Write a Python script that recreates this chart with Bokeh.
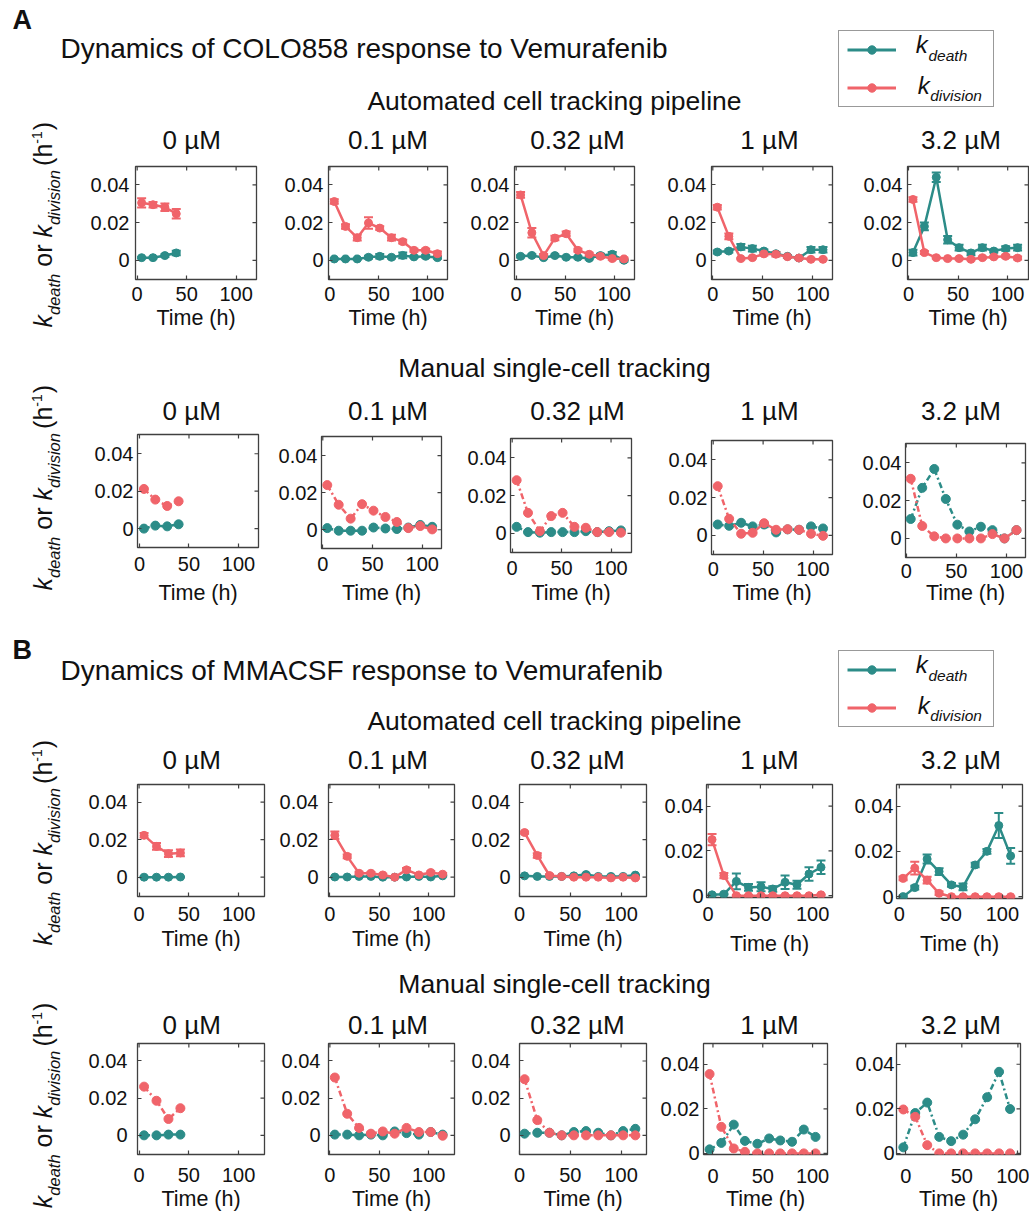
import math
from bokeh.plotting import figure
from bokeh.layouts import row, column
from bokeh.models import (Range1d, Label, FixedTicker, Whisker, TeeHead,
                          ColumnDataSource, Legend, LegendItem)
from bokeh.embed import file_html
from bokeh.resources import INLINE

# ---------------------------------------------------------------- data
CONC_LABELS = ["0 \u00b5M", "0.1 \u00b5M", "0.32 \u00b5M", "1 \u00b5M", "3.2 \u00b5M"]
X_TICKS = [0, 50, 100]
X_TICK_LABELS = ["0", "50", "100"]
Y_TICKS = [0, 0.02, 0.04]
Y_TICK_LABELS = ["0", "0.02", "0.04"]

T_A = [4.5, 16, 28, 39.5, 51, 63, 74.5, 86, 98, 110]
T_B = [5, 17.5, 29.5, 41.5, 53.5, 65.5, 77.5, 90, 102, 114]
T_B_AUTO_HIGH = [3.7, 15, 27, 38.6, 50.6, 61.8, 73.6, 85, 96.5, 108]
T_B_MAN_1 = [-3.4, 8.4, 20.9, 32.1, 44.6, 56.4, 67.6, 79.4, 91.2, 103]
T_B_MAN_32 = [-2.1, 8.5, 19.2, 29.9, 40.5, 51.2, 61.9, 72.6, 83.2, 93]

# A (COLO858) - automated pipeline
A_AUTO_0_DEATH = [0.0014, 0.0014, 0.0025, 0.0039]
A_AUTO_0_DEATH_ERR = [0.0005, 0.0005, 0.0007, 0.0012]
A_AUTO_0_DIV = [0.0305, 0.0295, 0.0282, 0.0247]
A_AUTO_0_DIV_ERR = [0.0025, 0.0015, 0.002, 0.0025]
A_AUTO_01_DEATH = [0.0007, 0.0007, 0.0007, 0.0016, 0.0021, 0.0016, 0.0026, 0.0018, 0.0021, 0.0014]
A_AUTO_01_DEATH_ERR = [0.0004, 0.0004, 0.0004, 0.0008, 0.0012, 0.0006, 0.0015, 0.0006, 0.0008, 0.0006]
A_AUTO_01_DIV = [0.0312, 0.018, 0.012, 0.0198, 0.0171, 0.012, 0.0099, 0.0053, 0.0053, 0.0035]
A_AUTO_01_DIV_ERR = [0.0012, 0.0012, 0.0015, 0.003, 0.001, 0.0015, 0.001, 0.0008, 0.0008, 0.0012]
A_AUTO_032_DEATH = [0.0021, 0.0026, 0.0014, 0.0025, 0.0016, 0.0016, 0.001, 0.0025, 0.0032, 0.0]
A_AUTO_032_DEATH_ERR = [0.0006, 0.0006, 0.0005, 0.0006, 0.0005, 0.0006, 0.0006, 0.001, 0.0012, 0.0006]
A_AUTO_032_DIV = [0.0347, 0.0146, 0.0025, 0.0118, 0.0141, 0.0053, 0.0032, 0.0021, 0.0009, 0.0007]
A_AUTO_032_DIV_ERR = [0.0015, 0.0025, 0.0008, 0.0012, 0.0012, 0.0008, 0.0008, 0.0008, 0.0006, 0.0006]
A_AUTO_1_DEATH = [0.0044, 0.0049, 0.0071, 0.0062, 0.0049, 0.0035, 0.0021, 0.0012, 0.0056, 0.0056]
A_AUTO_1_DEATH_ERR = [0.0008, 0.0008, 0.0015, 0.0015, 0.0008, 0.0008, 0.0006, 0.0006, 0.0015, 0.0015]
A_AUTO_1_DIV = [0.0282, 0.0127, 0.0009, 0.0014, 0.0034, 0.0032, 0.0019, 0.0012, 0.0005, 0.0005]
A_AUTO_1_DIV_ERR = [0.0012, 0.0015, 0.0005, 0.0005, 0.0008, 0.0012, 0.0006, 0.0005, 0.0004, 0.0004]
A_AUTO_32_DEATH = [0.0041, 0.018, 0.0441, 0.0109, 0.0067, 0.0039, 0.0067, 0.0049, 0.0062, 0.0067]
A_AUTO_32_DEATH_ERR = [0.0015, 0.002, 0.0025, 0.002, 0.0015, 0.0012, 0.0015, 0.0008, 0.0012, 0.0015]
A_AUTO_32_DIV = [0.0323, 0.0041, 0.0014, 0.0009, 0.0009, 0.0005, 0.0014, 0.0018, 0.0021, 0.0012]
A_AUTO_32_DIV_ERR = [0.0012, 0.0008, 0.0005, 0.0005, 0.0005, 0.0005, 0.0006, 0.0006, 0.0008, 0.0008]

# A (COLO858) - manual tracking
A_MAN_0_DEATH = [0.0, 0.0016, 0.0012, 0.0023]
A_MAN_0_DIV = [0.0212, 0.0155, 0.0121, 0.0146]
A_MAN_01_DEATH = [0.0009, -0.0005, -0.0005, -0.0005, 0.0012, 0.0007, 0.0004, 0.0012, 0.0026, 0.0016]
A_MAN_01_DIV = [0.0241, 0.0135, 0.006, 0.0138, 0.0103, 0.0069, 0.0042, 0.0009, 0.002, 0.0002]
A_MAN_032_DEATH = [0.0035, 0.0007, 0.0004, 0.0007, 0.0007, 0.0007, 0.0012, 0.0007, 0.0012, 0.0016]
A_MAN_032_DIV = [0.0282, 0.0109, 0.0012, 0.0092, 0.0109, 0.0035, 0.003, 0.0007, 0.0007, 0.0004]
A_MAN_1_DEATH = [0.0058, 0.0051, 0.0067, 0.0048, 0.0058, 0.0016, 0.0032, 0.003, 0.0048, 0.0037]
A_MAN_1_DIV = [0.0261, 0.0088, 0.0009, 0.0014, 0.0065, 0.003, 0.0033, 0.003, 0.0009, -0.0002]
A_MAN_32_DEATH = [0.0103, 0.0268, 0.0368, 0.0209, 0.0073, 0.0037, 0.0062, 0.0044, 0.0, 0.0044]
A_MAN_32_DIV = [0.0316, 0.0066, 0.0011, 0.0, 0.0, 0.0, 0.0, 0.0023, 0.0, 0.0044]

# B (MMACSF) - automated pipeline
B_AUTO_0_DEATH = [0.0, 0.0, 0.0, 0.0001]
B_AUTO_0_DEATH_ERR = [0.0003, 0.0003, 0.0003, 0.0003]
B_AUTO_0_DIV = [0.0223, 0.0164, 0.0125, 0.0129]
B_AUTO_0_DIV_ERR = [0.0012, 0.0018, 0.0018, 0.0018]
B_AUTO_01_DEATH = [0.0001, 0.0001, 0.0004, 0.0004, 0.0, 0.0, 0.0001, 0.0004, 0.0001, 0.0007]
B_AUTO_01_DEATH_ERR = [0.0003, 0.0003, 0.0003, 0.0003, 0.0003, 0.0003, 0.0003, 0.0003, 0.0003, 0.0003]
B_AUTO_01_DIV = [0.0223, 0.0111, 0.0021, 0.0021, 0.0012, 0.0, 0.0039, 0.0012, 0.0025, 0.0016]
B_AUTO_01_DIV_ERR = [0.002, 0.001, 0.0008, 0.0006, 0.0006, 0.0004, 0.001, 0.0006, 0.0006, 0.0006]
B_AUTO_032_DEATH = [0.0007, 0.0004, 0.0004, 0.0004, 0.0007, 0.0014, 0.0004, 0.0004, 0.0004, 0.0011]
B_AUTO_032_DEATH_ERR = [0.0003, 0.0003, 0.0003, 0.0003, 0.0003, 0.0004, 0.0003, 0.0003, 0.0003, 0.0003]
B_AUTO_032_DIV = [0.0238, 0.0116, 0.0009, 0.0004, 0.0, 0.0, 0.0, -0.0004, 0.0, -0.0004]
B_AUTO_032_DIV_ERR = [0.0006, 0.0012, 0.0006, 0.0004, 0.0004, 0.0004, 0.0004, 0.0004, 0.0004, 0.0004]
B_AUTO_1_DEATH = [0.0004, 0.0007, 0.0064, 0.0037, 0.004, 0.003, 0.006, 0.0049, 0.0097, 0.0127]
B_AUTO_1_DEATH_ERR = [0.0003, 0.0003, 0.0035, 0.0015, 0.002, 0.0012, 0.003, 0.0018, 0.003, 0.003]
B_AUTO_1_DIV = [0.0251, 0.009, 0.0, 0.0, 0.0, 0.0, 0.0, 0.0, 0.0, 0.0004]
B_AUTO_1_DIV_ERR = [0.0025, 0.0012, 0.0003, 0.0003, 0.0003, 0.0003, 0.0003, 0.0003, 0.0003, 0.0003]
B_AUTO_32_DEATH = [0.0, 0.004, 0.0166, 0.0111, 0.0052, 0.0043, 0.014, 0.02, 0.0314, 0.018]
B_AUTO_32_DEATH_ERR = [0.0004, 0.0008, 0.002, 0.0015, 0.0008, 0.0015, 0.001, 0.001, 0.0055, 0.0035]
B_AUTO_32_DIV = [0.0081, 0.0126, 0.0073, 0.0015, 0.0, 0.0, 0.0, 0.0, 0.0, 0.0]
B_AUTO_32_DIV_ERR = [0.0008, 0.0028, 0.0015, 0.0008, 0.0003, 0.0003, 0.0003, 0.0003, 0.0003, 0.0003]

# B (MMACSF) - manual tracking
B_MAN_0_DEATH = [0.0, 0.0, 0.0004, 0.0004]
B_MAN_0_DIV = [0.0262, 0.0186, 0.0088, 0.0146]
B_MAN_01_DEATH = [0.0004, 0.0004, 0.0, 0.0004, 0.0, 0.0021, 0.0012, 0.0004, 0.0018, 0.0004]
B_MAN_01_DIV = [0.0311, 0.0116, 0.004, 0.0009, 0.0021, 0.0009, 0.004, 0.0018, 0.0018, -0.0002]
B_MAN_032_DEATH = [0.0009, 0.0014, 0.0014, 0.0, 0.0018, 0.0023, 0.0014, 0.0, 0.0023, 0.0035]
B_MAN_032_DIV = [0.0302, 0.0082, 0.0014, 0.0, 0.0, 0.0, 0.0, 0.0, 0.0, 0.0]
B_MAN_1_DEATH = [0.0018, 0.0047, 0.0129, 0.0056, 0.0043, 0.0067, 0.0058, 0.0052, 0.0107, 0.0074]
B_MAN_1_DIV = [0.0356, 0.0119, 0.0022, 0.0007, 0.0, 0.0, 0.0, 0.0, 0.0, 0.0]
B_MAN_32_DEATH = [0.0027, 0.0181, 0.0228, 0.0074, 0.0055, 0.0084, 0.0153, 0.0252, 0.0366, 0.0199]
B_MAN_32_DIV = [0.0197, 0.0164, 0.0037, 0.0, 0.0, 0.0, 0.0, 0.0, 0.0, 0.0]

# ---------------------------------------------------------------- style
FONT = "Liberation Sans"
TEAL = "#2C8C88"
RED = "#F0646A"
FRAME = "#404040"
TXT = "#111111"

# ---------------------------------------------------------------- layout geometry (page px)
PAGE_W = 1029
LEFT_W = 80          # y-label column
RIGHT_X0 = 80
RIGHT_X1 = PAGE_W
TITLE_CX = [191.2, 387.5, 577.0, 769.0, 960.4]   # centres of the concentration titles

# frame_left, frame_right, frame_top, frame_bottom, xmin, xmax, ymin, ymax
GEOM_A_AUTO = [
    (135.3, 256.0, 165.7, 279.3, -1.7, 120.6, -0.0102, 0.0498),
    (327.7, 447.3, 165.7, 279.3, -1.4, 120.3, -0.0102, 0.0498),
    (513.6, 634.4, 165.7, 279.3, -1.7, 120.7, -0.0102, 0.0498),
    (711.4, 831.9, 165.7, 279.3, -1.3, 119.5, -0.0102, 0.0498),
    (907.4, 1027.9, 165.7, 279.3, -1.0, 121.0, -0.0102, 0.0498),
]
GEOM_A_MAN = [
    (137.3, 258.3, 434.0, 547.0, -2.0, 120.2, -0.0101, 0.0503),
    (320.7, 441.0, 435.7, 548.3, -1.3, 119.4, -0.0101, 0.0503),
    (510.2, 631.0, 437.7, 551.7, -1.7, 120.7, -0.0101, 0.0503),
    (711.0, 831.9, 440.0, 554.0, -1.7, 119.5, -0.0101, 0.0503),
    (905.0, 1025.2, 443.3, 556.7, -0.7, 119.0, -0.0101, 0.0503),
]
GEOM_B_AUTO = [
    (136.7, 264.3, 784.0, 895.7, -1.6, 126.0, -0.0103, 0.0494),
    (328.3, 454.0, 784.0, 895.7, -1.4, 126.0, -0.0103, 0.0494),
    (518.7, 646.4, 784.0, 895.7, 0.0, 125.0, -0.0103, 0.0494),
    (705.9, 831.9, 784.0, 896.7, -1.6, 119.0, -0.0008, 0.0497),
    (896.5, 1022.5, 784.0, 897.7, -2.7, 119.5, -0.0008, 0.0495),
]
GEOM_B_MAN = [
    (136.7, 264.3, 1043.3, 1154.3, -1.6, 126.0, -0.0103, 0.0494),
    (327.7, 454.3, 1043.3, 1154.3, -1.4, 126.0, -0.0103, 0.0494),
    (518.7, 646.4, 1043.3, 1154.3, 0.0, 125.0, -0.0103, 0.0494),
    (703.2, 827.4, 1043.3, 1154.3, -9.5, 115.0, -0.0005, 0.0493),
    (896.5, 1020.0, 1043.3, 1154.3, -8.2, 102.3, -0.0005, 0.0493),
]

# text metric guesses (Liberation Sans); labels are anchored at their middle
MID = 0.35
TICK_FS = 20
TIME_FS = 21.5
TITLE_FS = 26
HEAD_FS = 26.5
MAIN_FS = 28

EM = {"k": 0.5, "d": 0.556, "e": 0.556, "a": 0.556, "t": 0.278, "h": 0.556, "o": 0.556,
      "r": 0.333, "i": 0.222, "v": 0.5, "s": 0.5, "n": 0.556, "(": 0.333, ")": 0.333,
      "-": 0.333, "1": 0.556, " ": 0.278}


def tw(s, size):
    return sum(EM[c] for c in s) * size


def canvas(w, h):
    c = figure(width=w, height=h, x_range=Range1d(0, w), y_range=Range1d(0, h),
               x_axis_type=None, y_axis_type=None, toolbar_location=None, title=None,
               output_backend="svg", min_border_left=0, min_border_right=0,
               min_border_top=0, min_border_bottom=0, outline_line_color=None,
               background_fill_color="white", border_fill_color="white")
    c.grid.visible = False
    return c


def add_text(c, x, y_base_up, text, size, style="normal", align="left", angle=0.0,
             level="annotation"):
    """y_base_up: baseline position in canvas (upward) coords."""
    if angle == 0.0:
        x_a, y_a = x, y_base_up + MID * size
    else:  # rotated 90 degrees counter-clockwise: glyph 'up' points to -x
        x_a, y_a = x - MID * size, y_base_up
    c.add_layout(Label(x=x_a, y=y_a, text=text, text_font=FONT, text_font_size=f"{size}px",
                       text_font_style=style, text_align=align, text_baseline="middle",
                       text_color=TXT, angle=angle, level=level))


def ylabel_canvas(band_top, band_bottom, bottom_y, base_x):
    h = band_bottom - band_top
    c = canvas(LEFT_W, h)
    M, S, P = 25, 16.5, 14
    sp = tw(" ", M)
    pieces = [("k", M, "italic", 0, 0), ("death", S, "italic", 8, sp),
              ("or", M, "normal", 0, sp), ("k", M, "italic", 0, 0),
              ("division", S, "italic", 8, sp * 0.6), ("(h", M, "normal", 0, 0),
              ("-1", P, "normal", -10, 1), (")", M, "normal", 0, 0)]
    y = bottom_y
    for text, size, style, dx, gap in pieces:
        add_text(c, base_x + dx, band_bottom - y, text, size, style, angle=math.pi / 2)
        y -= tw(text, size) + gap
    return c


def legend_block(c, top_offset, canvas_bottom):
    # sample renderers kept outside the visible canvas; they only feed the legend swatches
    r1 = c.line(x=[-60, -40], y=[-60, -60], line_color=TEAL, line_width=3)
    s1 = c.scatter(x=[-50], y=[-60], marker="circle", size=9, color=TEAL)
    r2 = c.line(x=[-60, -40], y=[-80, -80], line_color=RED, line_width=3)
    s2 = c.scatter(x=[-50], y=[-80], marker="circle", size=9, color=RED)
    leg = Legend(items=[LegendItem(label=" ", renderers=[r1, s1]),
                        LegendItem(label=" ", renderers=[r2, s2])],
                 location=(838, canvas_bottom - (107 + top_offset)), orientation="vertical",
                 padding=8, spacing=17, glyph_width=49, glyph_height=21,
                 label_height=21, label_width=84, label_standoff=5, margin=0,
                 border_line_color="#333333", border_line_width=1.2,
                 background_fill_alpha=0.0, label_text_font_size="10px")
    c.add_layout(leg)
    add_text(c, 915.3, canvas_bottom - (52.7 + top_offset), "k", 24, "italic", level="overlay")
    add_text(c, 928.0, canvas_bottom - (60.3 + top_offset), "death", 15.5, "italic", level="overlay")
    add_text(c, 917.3, canvas_bottom - (93.0 + top_offset), "k", 24, "italic", level="overlay")
    add_text(c, 929.7, canvas_bottom - (100.5 + top_offset), "division", 15.5, "italic",
             level="overlay")


def header_canvas(top, bottom, letter, letter_base, title, title_base, sub_base, legend_offset):
    c = canvas(PAGE_W, bottom - top)
    add_text(c, 12, bottom - letter_base, letter, 27, "bold")
    add_text(c, 60, bottom - title_base, title, MAIN_FS)
    add_text(c, 554, bottom - sub_base, "Automated cell tracking pipeline", HEAD_FS,
             align="center")
    legend_block(c, legend_offset, bottom)
    return c


def sub_canvas(top, bottom, base):
    c = canvas(PAGE_W, bottom - top)
    add_text(c, 554, bottom - base, "Manual single-cell tracking", HEAD_FS, align="center")
    return c


def panel(geom, b_left, b_right, strip_bottom, band_bottom, tick_top, time_top, ygap,
          t, death, div, death_err, div_err):
    fl, fr, ft, fb, x0, x1, y0, y1 = geom
    L, R, T, B = round(fl), round(fr), round(ft), round(fb)
    p = figure(frame_width=R - L, frame_height=B - T,
               min_border_left=L - b_left, min_border_right=b_right - R,
               min_border_top=T - strip_bottom, min_border_bottom=band_bottom - B,
               x_range=Range1d(x0, x1), y_range=Range1d(y0, y1), title=None,
               toolbar_location=None, output_backend="svg", x_axis_label="Time (h)",
               background_fill_color="white", border_fill_color="white",
               outline_line_color=FRAME, outline_line_width=1.3)
    p.grid.visible = False
    for ax in (p.xaxis[0], p.yaxis[0]):
        ax.major_label_text_font = FONT
        ax.major_label_text_font_size = f"{TICK_FS}px"
        ax.major_label_text_color = TXT
        ax.major_tick_in = 4
        ax.major_tick_out = 0
        ax.major_tick_line_color = FRAME
        ax.major_tick_line_width = 1.2
        ax.minor_tick_line_color = None
        ax.axis_line_color = None
    p.xaxis.ticker = FixedTicker(ticks=X_TICKS)
    p.xaxis.major_label_overrides = dict(zip(X_TICKS, X_TICK_LABELS))
    p.yaxis.ticker = FixedTicker(ticks=Y_TICKS)
    p.yaxis.major_label_overrides = dict(zip(Y_TICKS, Y_TICK_LABELS))
    p.yaxis.major_label_standoff = int(round(ygap))
    ls = int(round(tick_top - B - 1))
    p.xaxis.major_label_standoff = ls
    als = (time_top - 0.19 * TIME_FS) - (B + ls + 1.117 * TICK_FS) + 4
    p.xaxis.axis_label_standoff = int(round(als))
    p.xaxis.axis_label_text_font = FONT
    p.xaxis.axis_label_text_font_size = f"{TIME_FS}px"
    p.xaxis.axis_label_text_font_style = "normal"
    p.xaxis.axis_label_text_color = TXT
    # mirrored inward ticks on the top and right edges of the box
    p.ray(x=X_TICKS, y=[y1] * len(X_TICKS), length=4, length_units="screen",
          angle=-math.pi / 2, line_color=FRAME, line_width=1.2)
    p.ray(x=[x1] * len(Y_TICKS), y=Y_TICKS, length=4, length_units="screen",
          angle=math.pi, line_color=FRAME, line_width=1.2)

    manual = death_err is None
    tt = t[:len(death)]
    for vals, errs, color in ((death, death_err, TEAL), (div, div_err, RED)):
        if errs is not None:
            src = ColumnDataSource(dict(t=tt, lo=[v - e for v, e in zip(vals, errs)],
                                        hi=[v + e for v, e in zip(vals, errs)]))
            p.add_layout(Whisker(source=src, base="t", lower="lo", upper="hi",
                                 line_color=color, line_width=2,
                                 upper_head=TeeHead(size=9, line_color=color, line_width=2),
                                 lower_head=TeeHead(size=9, line_color=color, line_width=2)))
        if manual:
            p.line(tt, vals, line_color=color, line_width=2.5, line_dash="6 3 2 3")
            p.scatter(tt, vals, marker="circle", size=9, color=color)
        else:
            p.line(tt, vals, line_color=color, line_width=2.5)
            p.scatter(tt, vals, marker="circle", size=8, color=color)
    return p


def panel_row(geoms, series, band_top, band_bottom, strip_bottom, title_base, ylab_bottom,
              tick_tops, time_tops, ygaps):
    ylab = ylabel_canvas(band_top, band_bottom, ylab_bottom, 51.5)
    strip = canvas(RIGHT_X1 - RIGHT_X0, strip_bottom - band_top)
    for cxp, lab in zip(TITLE_CX, CONC_LABELS):
        add_text(strip, cxp - RIGHT_X0, strip_bottom - title_base, lab, TITLE_FS, align="center")
    bounds = [RIGHT_X0] + [round(g[0]) - 53 for g in geoms[1:]] + [RIGHT_X1]
    cells = []
    for i, g in enumerate(geoms):
        t, d, v, de, ve = series[i]
        fig = panel(g, bounds[i], bounds[i + 1], strip_bottom, band_bottom,
                    tick_tops[i], time_tops[i], ygaps[i], t, d, v, de, ve)
        cells.append(column(fig))   # own box, so each frame keeps its own vertical place
    return row(ylab, column(strip, row(*cells)))


SER_A_AUTO = [
    (T_A, A_AUTO_0_DEATH, A_AUTO_0_DIV, A_AUTO_0_DEATH_ERR, A_AUTO_0_DIV_ERR),
    (T_A, A_AUTO_01_DEATH, A_AUTO_01_DIV, A_AUTO_01_DEATH_ERR, A_AUTO_01_DIV_ERR),
    (T_A, A_AUTO_032_DEATH, A_AUTO_032_DIV, A_AUTO_032_DEATH_ERR, A_AUTO_032_DIV_ERR),
    (T_A, A_AUTO_1_DEATH, A_AUTO_1_DIV, A_AUTO_1_DEATH_ERR, A_AUTO_1_DIV_ERR),
    (T_A, A_AUTO_32_DEATH, A_AUTO_32_DIV, A_AUTO_32_DEATH_ERR, A_AUTO_32_DIV_ERR),
]
SER_A_MAN = [
    (T_A, A_MAN_0_DEATH, A_MAN_0_DIV, None, None),
    (T_A, A_MAN_01_DEATH, A_MAN_01_DIV, None, None),
    (T_A, A_MAN_032_DEATH, A_MAN_032_DIV, None, None),
    (T_A, A_MAN_1_DEATH, A_MAN_1_DIV, None, None),
    (T_A, A_MAN_32_DEATH, A_MAN_32_DIV, None, None),
]
SER_B_AUTO = [
    (T_B, B_AUTO_0_DEATH, B_AUTO_0_DIV, B_AUTO_0_DEATH_ERR, B_AUTO_0_DIV_ERR),
    (T_B, B_AUTO_01_DEATH, B_AUTO_01_DIV, B_AUTO_01_DEATH_ERR, B_AUTO_01_DIV_ERR),
    (T_B, B_AUTO_032_DEATH, B_AUTO_032_DIV, B_AUTO_032_DEATH_ERR, B_AUTO_032_DIV_ERR),
    (T_B_AUTO_HIGH, B_AUTO_1_DEATH, B_AUTO_1_DIV, B_AUTO_1_DEATH_ERR, B_AUTO_1_DIV_ERR),
    (T_B_AUTO_HIGH, B_AUTO_32_DEATH, B_AUTO_32_DIV, B_AUTO_32_DEATH_ERR, B_AUTO_32_DIV_ERR),
]
SER_B_MAN = [
    (T_B, B_MAN_0_DEATH, B_MAN_0_DIV, None, None),
    (T_B, B_MAN_01_DEATH, B_MAN_01_DIV, None, None),
    (T_B, B_MAN_032_DEATH, B_MAN_032_DIV, None, None),
    (T_B_MAN_1, B_MAN_1_DEATH, B_MAN_1_DIV, None, None),
    (T_B_MAN_32, B_MAN_32_DEATH, B_MAN_32_DIV, None, None),
]

head_a = header_canvas(0, 118, "A", 29, "Dynamics of COLO858 response to Vemurafenib", 58, 110, 0)
row_a1 = panel_row(GEOM_A_AUTO, SER_A_AUTO, 118, 340, 156, 148.3, 327,
                   [287.3] * 5, [310.7] * 5, [6, 5, 5, 5, 5])
sub_a = sub_canvas(340, 385, 376.7)
row_a2 = panel_row(GEOM_A_MAN, SER_A_MAN, 385, 612, 427, 420, 590,
                   [556.7, 557.5, 560.7, 561.7, 564], [585] * 5, [4, 4, 4, 4, 4])
head_b = header_canvas(612, 738, "B", 659, "Dynamics of MMACSF response to Vemurafenib", 680, 730, 620)
row_b1 = panel_row(GEOM_B_AUTO, SER_B_AUTO, 738, 962, 775, 768.3, 945,
                   [906.7] * 5, [931.7, 931.7, 931.7, 936, 936], [10, 10, 9, 3, 3])
sub_b = sub_canvas(962, 999, 993)
row_b2 = panel_row(GEOM_B_MAN, SER_B_MAN, 999, 1212, 1039, 1033.3, 1207.7,
                   [1167.7, 1167.7, 1167.7, 1169, 1169], [1191] * 5, [10, 8, 9, 4, 2])

layout = column(head_a, row_a1, sub_a, row_a2, head_b, row_b1, sub_b, row_b2)

open("out.html", "w").write(file_html(layout, INLINE))
